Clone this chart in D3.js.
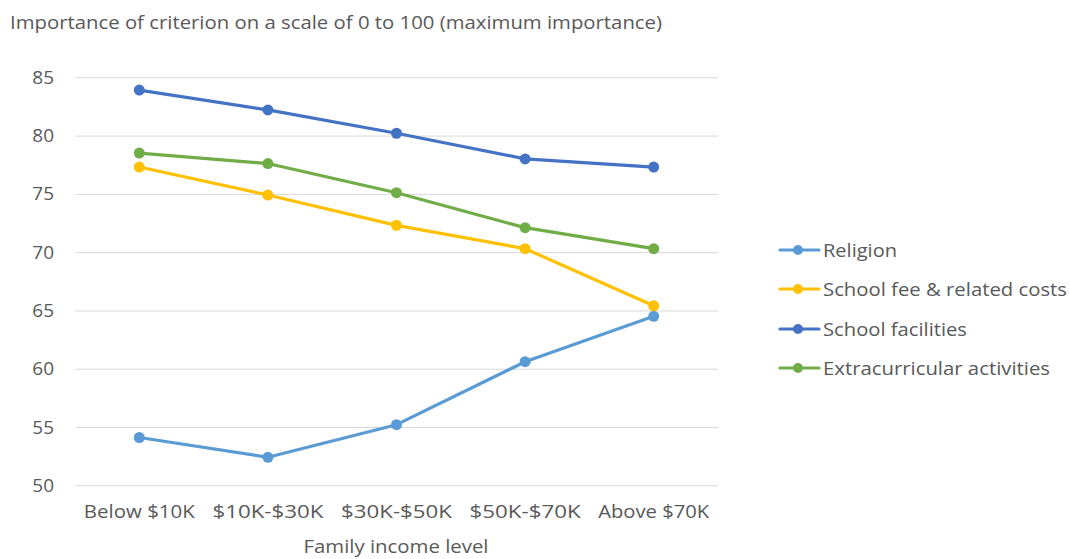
<!DOCTYPE html>
<html><head><meta charset="utf-8">
<script src="https://cdn.jsdelivr.net/npm/d3@7"></script>
<style>body{margin:0;background:#fff}svg{display:block}text{font-family:"Open Sans","Noto Sans",sans-serif;fill:#595959}</style>
</head><body><svg id="c" width="1070" height="559"></svg>
<script>
const categories = ["Below $10K","$10K-$30K","$30K-$50K","$50K-$70K","Above $70K"];
const seriesNames = ["Religion","School fee & related costs","School facilities","Extracurricular activities"];
const religion = [54.1,52.4,55.2,60.6,64.5];
const schoolFee = [77.3,74.9,72.3,70.3,65.4];
const facilities = [83.9,82.2,80.2,78.0,77.3];
const extracurricular = [78.5,77.6,75.1,72.1,70.3];
const yTicks = [50,55,60,65,70,75,80,85];
const colors = ["#5B9BD5","#FFC000","#4472C4","#70AD47"];
const seriesValues = [religion, schoolFee, facilities, extracurricular];

const svg = d3.select("#c");
const x = d3.scaleBand().domain(categories).range([75,718]);
const y = d3.scaleLinear().domain([50,85]).range([485.3,77.3]);

svg.append("text").attr("x",10).attr("y",29).attr("font-size",19)
  .attr("textLength",652).attr("lengthAdjust","spacingAndGlyphs")
  .text("Importance of criterion on a scale of 0 to 100 (maximum importance)");

const yAxis = svg.append("g").attr("transform","translate(75,0)")
  .call(d3.axisLeft(y).tickValues(yTicks).tickSize(-643).tickPadding(21));
yAxis.select(".domain").remove();
yAxis.selectAll(".tick line").attr("stroke","#D9D9D9").attr("stroke-width",1);
yAxis.selectAll(".tick text").attr("font-size",19).attr("fill","#595959");

const xAxis = svg.append("g").attr("transform","translate(0,485.3)")
  .call(d3.axisBottom(x).tickSize(0).tickPadding(19));
xAxis.select(".domain").remove();
xAxis.selectAll(".tick text").attr("font-size",19).attr("fill","#595959")
  .attr("textLength",111).attr("lengthAdjust","spacingAndGlyphs");

svg.append("text").attr("x",396).attr("y",553).attr("text-anchor","middle").attr("font-size",19)
  .attr("textLength",185).attr("lengthAdjust","spacingAndGlyphs").text("Family income level");

const line = d3.line().x((d,i)=>x(categories[i])+x.bandwidth()/2).y(d=>y(d));
seriesValues.forEach((vals,si)=>{
  const g = svg.append("g");
  g.append("path").datum(vals).attr("d",line).attr("fill","none")
    .attr("stroke",colors[si]).attr("stroke-width",3.2).attr("stroke-linejoin","round").attr("stroke-linecap","round");
  g.selectAll("circle").data(vals).join("circle")
    .attr("cx",(d,i)=>x(categories[i])+x.bandwidth()/2).attr("cy",d=>y(d)).attr("r",5.5).attr("fill",colors[si]);
});

const legendY = [250,289,329,368];
const legendW = [74,244,144,227];
seriesNames.forEach((n,i)=>{
  const g = svg.append("g").attr("transform",`translate(0,${legendY[i]})`);
  g.append("line").attr("x1",780).attr("x2",819).attr("y1",0).attr("y2",0).attr("stroke",colors[i]).attr("stroke-width",3.2).attr("stroke-linecap","round");
  g.append("circle").attr("cx",798).attr("cy",0).attr("r",5).attr("fill",colors[i]);
  g.append("text").attr("x",823).attr("y",7).attr("font-size",19)
    .attr("textLength",legendW[i]).attr("lengthAdjust","spacingAndGlyphs").text(n);
});
</script></body></html>
